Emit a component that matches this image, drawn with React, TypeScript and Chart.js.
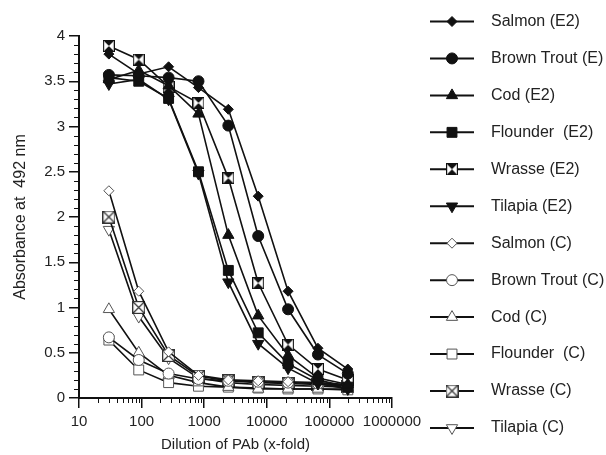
import React, { useEffect, useRef } from 'react';
import { Chart, registerables } from 'chart.js';
import { drawPoint } from 'chart.js/helpers';

Chart.register(...registerables);

// ---------- data ----------
const dilutions = [30, 90, 270, 810, 2430, 7290, 21870, 65610, 196830];

const salmonE2 = [3.80, 3.58, 3.66, 3.43, 3.19, 2.23, 1.18, 0.55, 0.32];
const brownTroutE = [3.57, 3.56, 3.54, 3.50, 3.01, 1.79, 0.98, 0.48, 0.27];
const codE2 = [3.52, 3.62, 3.45, 3.14, 1.80, 0.91, 0.47, 0.22, 0.15];
const flounderE2 = [3.54, 3.50, 3.31, 2.50, 1.41, 0.72, 0.38, 0.20, 0.12];
const wrasseE2 = [3.89, 3.74, 3.44, 3.26, 2.43, 1.27, 0.59, 0.32, 0.20];
const tilapiaE2 = [3.47, 3.52, 3.30, 2.48, 1.28, 0.60, 0.33, 0.16, 0.10];

const salmonC = [2.29, 1.18, 0.51, 0.25, 0.20, 0.19, 0.18, 0.17, 0.15];
const brownTroutC = [0.67, 0.42, 0.27, 0.21, 0.19, 0.18, 0.17, 0.16, 0.14];
const codC = [0.98, 0.50, 0.25, 0.17, 0.12, 0.10, 0.10, 0.10, 0.10];
const flounderC = [0.64, 0.31, 0.17, 0.13, 0.12, 0.11, 0.10, 0.10, 0.09];
const wrasseC = [2.00, 1.00, 0.47, 0.24, 0.19, 0.17, 0.16, 0.15, 0.13];
const tilapiaC = [1.86, 0.90, 0.44, 0.22, 0.17, 0.15, 0.14, 0.13, 0.12];

const seriesLabels = [
  'Salmon (E2)', 'Brown Trout (E)', 'Cod (E2)', 'Flounder  (E2)', 'Wrasse (E2)', 'Tilapia (E2)',
  'Salmon (C)', 'Brown Trout (C)', 'Cod (C)', 'Flounder  (C)', 'Wrasse (C)', 'Tilapia (C)',
];

const xTickValues = [10, 100, 1000, 10000, 100000, 1000000];
const yTickValues = [0, 0.5, 1, 1.5, 2, 2.5, 3, 3.5, 4];
const xMinorMultipliers = [2, 3, 4, 5, 6, 7, 8, 9];
const yMinorStep = 0.1;

const xTitle = 'Dilution of PAb (x-fold)';
const yTitle = 'Absorbance at  492 nm';

const FONT = '"Liberation Sans", Arial, sans-serif';
const INK = '#111';
const OPEN_STROKE = '#555';

// ---------- custom marker images ----------
function makeWrasseFilled(): HTMLCanvasElement {
  const s = 12;
  const c = document.createElement('canvas');
  c.width = s; c.height = s;
  const g = c.getContext('2d')!;
  g.fillStyle = '#fff';
  g.fillRect(0, 0, s, s);
  g.fillStyle = INK;
  g.beginPath(); g.moveTo(0, 0); g.lineTo(s, 0); g.lineTo(s / 2, s / 2); g.closePath(); g.fill();
  g.beginPath(); g.moveTo(0, s); g.lineTo(s, s); g.lineTo(s / 2, s / 2); g.closePath(); g.fill();
  g.strokeStyle = INK; g.lineWidth = 1.2;
  g.strokeRect(0.6, 0.6, s - 1.2, s - 1.2);
  g.strokeStyle = '#999'; g.lineWidth = 1;
  g.beginPath(); g.moveTo(1, 1); g.lineTo(s - 1, s - 1); g.moveTo(s - 1, 1); g.lineTo(1, s - 1); g.stroke();
  return c;
}

function makeWrasseOpen(): HTMLCanvasElement {
  const s = 13;
  const c = document.createElement('canvas');
  c.width = s; c.height = s;
  const g = c.getContext('2d')!;
  g.fillStyle = '#fff';
  g.fillRect(0, 0, s, s);
  g.strokeStyle = '#333'; g.lineWidth = 1.2;
  g.strokeRect(0.6, 0.6, s - 1.2, s - 1.2);
  g.beginPath(); g.moveTo(1, 1); g.lineTo(s - 1, s - 1); g.moveTo(s - 1, 1); g.lineTo(1, s - 1); g.stroke();
  return c;
}

// ---------- plugins ----------
const minorTicksPlugin = {
  id: 'minorTicks',
  afterDraw(chart: any) {
    const { ctx, chartArea } = chart;
    const xs = chart.scales.x;
    const ys = chart.scales.y;
    ctx.save();
    ctx.strokeStyle = INK;
    ctx.lineWidth = 1;
    ctx.beginPath();
    for (let i = 0; i < xTickValues.length - 1; i++) {
      const d = xTickValues[i];
      xMinorMultipliers.forEach((m) => {
        const px = Math.round(xs.getPixelForValue(m * d)) + 0.5;
        ctx.moveTo(px, chartArea.bottom);
        ctx.lineTo(px, chartArea.bottom + 5);
      });
    }
    const yMax = yTickValues[yTickValues.length - 1];
    for (let k = 1; k * yMinorStep < yMax - 1e-9; k++) {
      if (k % 5 === 0) continue;
      const py = Math.round(ys.getPixelForValue(k * yMinorStep)) + 0.5;
      ctx.moveTo(chartArea.left - 5, py);
      ctx.lineTo(chartArea.left, py);
    }
    ctx.stroke();
    ctx.restore();
  },
};

const sideLegendPlugin = {
  id: 'sideLegend',
  afterDraw(chart: any) {
    const { ctx } = chart;
    const lineX0 = 430;
    const lineX1 = 474;
    const textX = 491;
    const top = 21.5;
    const pitch = 36.95;
    chart.data.datasets.forEach((ds: any, i: number) => {
      const cy = top + i * pitch;
      ctx.save();
      ctx.strokeStyle = INK;
      ctx.lineWidth = 2;
      ctx.beginPath();
      ctx.moveTo(lineX0, cy);
      ctx.lineTo(lineX1, cy);
      ctx.stroke();
      ctx.fillStyle = ds.pointBackgroundColor;
      ctx.strokeStyle = ds.pointBorderColor;
      ctx.lineWidth = ds.pointBorderWidth;
      drawPoint(ctx, {
        pointStyle: ds.pointStyle,
        rotation: ds.pointRotation || 0,
        radius: ds.pointRadius,
        borderWidth: ds.pointBorderWidth,
      } as any, (lineX0 + lineX1) / 2, cy);
      ctx.fillStyle = '#222';
      ctx.font = `16px ${FONT}`;
      ctx.textBaseline = 'middle';
      ctx.textAlign = 'left';
      ctx.fillText(ds.label, textX, cy);
      ctx.restore();
    });
  },
};

export default function App() {
  const ref = useRef<HTMLCanvasElement>(null);

  useEffect(() => {
    const canvas = ref.current;
    if (!canvas) return;

    const wrasseFilled = makeWrasseFilled();
    const wrasseOpen = makeWrasseOpen();

    const filled = (label: string, values: number[], style: any, radius: number, rotation = 0) => ({
      label,
      data: dilutions.map((x, i) => ({ x, y: values[i] })),
      borderColor: INK,
      borderWidth: 1.6,
      backgroundColor: INK,
      pointStyle: style,
      pointRotation: rotation,
      pointRadius: radius,
      pointBackgroundColor: INK,
      pointBorderColor: INK,
      pointBorderWidth: 1,
      tension: 0,
    });
    const open = (label: string, values: number[], style: any, radius: number, rotation = 0) => ({
      label,
      data: dilutions.map((x, i) => ({ x, y: values[i] })),
      borderColor: INK,
      borderWidth: 1.6,
      backgroundColor: '#fff',
      pointStyle: style,
      pointRotation: rotation,
      pointRadius: radius,
      pointBackgroundColor: '#fff',
      pointBorderColor: OPEN_STROKE,
      pointBorderWidth: 1,
      tension: 0,
    });

    const datasets = [
      filled(seriesLabels[0], salmonE2, 'rectRot', 5),
      filled(seriesLabels[1], brownTroutE, 'circle', 5.5),
      filled(seriesLabels[2], codE2, 'triangle', 6.5),
      filled(seriesLabels[3], flounderE2, 'rect', 7),
      filled(seriesLabels[4], wrasseE2, wrasseFilled, 6),
      filled(seriesLabels[5], tilapiaE2, 'triangle', 6.5, 180),
      open(seriesLabels[6], salmonC, 'rectRot', 5),
      open(seriesLabels[7], brownTroutC, 'circle', 5.5),
      open(seriesLabels[8], codC, 'triangle', 6.5),
      open(seriesLabels[9], flounderC, 'rect', 7),
      open(seriesLabels[10], wrasseC, wrasseOpen, 6.5),
      open(seriesLabels[11], tilapiaC, 'triangle', 6.5, 180),
    ];

    const chart = new Chart(canvas, {
      type: 'line',
      data: { datasets: datasets as any },
      options: {
        animation: false,
        responsive: false,
        events: [],
        layout: { padding: { left: 0, top: 36, right: 214, bottom: 0 } },
        plugins: {
          legend: { display: false },
          tooltip: { enabled: false },
        },
        scales: {
          x: {
            type: 'logarithmic',
            position: 'bottom',
            min: 10,
            max: 1000000,
            afterBuildTicks: (axis: any) => {
              axis.ticks = xTickValues.map((v) => ({ value: v }));
            },
            afterFit: (axis: any) => { axis.height = 57; },
            ticks: {
              autoSkip: false,
              maxRotation: 0,
              padding: 5,
              color: '#222',
              font: { family: FONT, size: 15 },
              callback: (v: any) => String(v),
            },
            grid: {
              display: true,
              drawOnChartArea: false,
              drawTicks: true,
              tickLength: 10,
              color: INK,
              lineWidth: 1.5,
            },
            border: { display: true, color: INK, width: 2 },
            title: {
              display: true,
              text: xTitle,
              color: '#222',
              font: { family: FONT, size: 15 },
              padding: { top: 0, bottom: 1 },
            },
          },
          y: {
            type: 'linear',
            position: 'left',
            min: 0,
            max: 4,
            afterBuildTicks: (axis: any) => {
              axis.ticks = yTickValues.map((v) => ({ value: v }));
            },
            afterFit: (axis: any) => { axis.width = 79; },
            ticks: {
              autoSkip: false,
              padding: 4,
              color: '#222',
              font: { family: FONT, size: 15 },
              callback: (v: any) => String(v),
            },
            grid: {
              display: true,
              drawOnChartArea: false,
              drawTicks: true,
              tickLength: 10,
              color: INK,
              lineWidth: 1.5,
            },
            border: { display: true, color: INK, width: 2 },
            title: {
              display: true,
              text: yTitle,
              color: '#222',
              font: { family: FONT, size: 16 },
              padding: { top: 11, bottom: 0 },
            },
          },
        },
      } as any,
      plugins: [minorTicksPlugin, sideLegendPlugin],
    });

    return () => chart.destroy();
  }, []);

  return (
    <div style={{ position: 'absolute', left: 0, top: 0, width: 606, height: 455, background: '#fff' }}>
      <canvas ref={ref} width={606} height={455} style={{ display: 'block', width: 606, height: 455 }} />
    </div>
  );
}
